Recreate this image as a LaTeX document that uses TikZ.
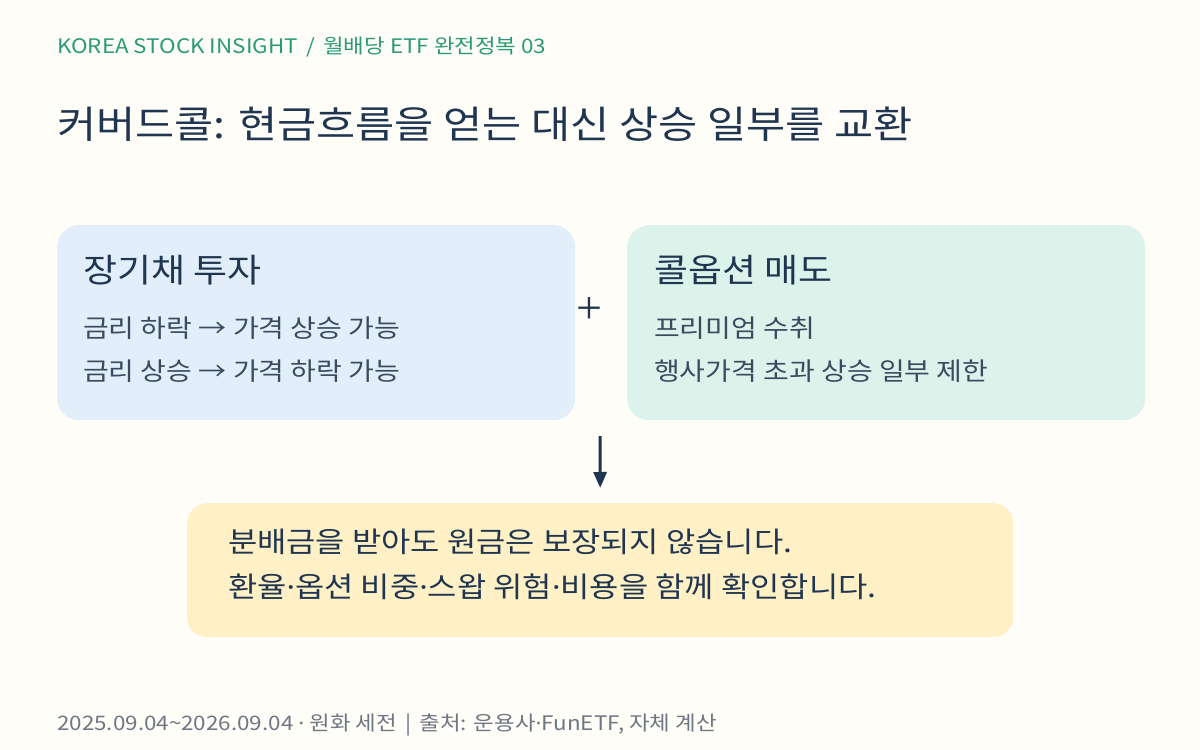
\documentclass[tikz,border=0pt]{standalone}
\usepackage{fontspec}
\setmainfont{Noto Sans CJK KR}[FakeStretch=1.12]
\newfontfamily\dotfont{Noto Sans}[FakeStretch=1.12]
\newfontfamily\plusfont{Liberation Serif}
\newcommand{\md}{{\dotfont ·}}
\usetikzlibrary{arrows.meta, positioning}

\definecolor{paper}{HTML}{FFFDF7}
\definecolor{kicker}{HTML}{2A9A78}
\definecolor{navy}{HTML}{1F3550}
\definecolor{slate}{HTML}{3A4B60}
\definecolor{muted}{HTML}{6E7782}
\definecolor{bondfill}{HTML}{E2EFFA}
\definecolor{callfill}{HTML}{DCF3EC}
\definecolor{notefill}{HTML}{FFF0C6}

\begin{document}
\begin{tikzpicture}[
  x=1pt, y=-1pt,
  panel/.style={rounded corners=22pt, inner sep=0pt, anchor=north west,
    minimum width=518pt, minimum height=195pt},
  heading/.style={anchor=base west, inner sep=0pt, text=navy,
    font=\fontsize{33}{38}\selectfont},
  item/.style={anchor=base west, inner sep=0pt, text=slate,
    font=\fontsize{25}{30}\selectfont},
  note/.style={anchor=base west, inner sep=0pt, text=navy,
    font=\fontsize{28.4}{34}\selectfont},
  edge/.style={-{Triangle[length=16pt, width=13pt]}, line width=3pt, draw=navy}
]
\fill[paper] (0,0) rectangle (1200,750);
\useasboundingbox (0,0) rectangle (1200,750);

\node[anchor=base west, inner sep=0pt, text=kicker, font=\fontsize{20}{24}\selectfont]
  (kicker) at (57,53) {KOREA STOCK INSIGHT \,/\, 월배당 ETF 완전정복 03};
\node[anchor=base west, inner sep=0pt, text=navy, font=\fontsize{38}{46}\selectfont]
  (title) at (57,138) {커버드콜: 현금흐름을 얻는 대신 상승 일부를 교환};

% two building blocks
\node[panel, fill=bondfill] (bond) at (57,225) {};
\node[panel, fill=callfill] (call) at (627,225) {};
\node[text=navy, font=\plusfont\fontsize{46}{50}\selectfont, inner sep=0pt] (plus) at (589,311) {+};

\node[heading] (bondtitle) at (83,282) {장기채 투자};
\node[item] (bondup) at (83,337) {금리 하락 → 가격 상승 가능};
\node[item] (bonddown) at (83,380) {금리 상승 → 가격 하락 가능};

\node[heading] (calltitle) at (654,282) {콜옵션 매도};
\node[item] (callprem) at (654,337) {프리미엄 수취};
\node[item] (callcap) at (654,380) {행사가격 초과 상승 일부 제한};

% result
\node[rounded corners=20pt, fill=notefill, minimum width=826pt, minimum height=134pt,
  inner sep=0pt, anchor=north west] (result) at (187,503) {};
\node[note] (noteone) at (228,552) {분배금을 받아도 원금은 보장되지 않습니다.};
\node[note] (notetwo) at (228,597) {환율\md 옵션 비중\md 스왑 위험\md 비용을 함께 확인합니다.};

\coordinate (split) at (600,436);
\draw[edge, shorten >=15pt] (split) -- (result.north);

\node[anchor=base west, inner sep=0pt, text=muted, font=\fontsize{20}{24}\selectfont]
  (source) at (57,730) {2025.09.04\textasciitilde 2026.09.04 \md{} 원화 세전 \,|\, 출처: 운용사\md FunETF, 자체 계산};
\end{tikzpicture}
\end{document}
